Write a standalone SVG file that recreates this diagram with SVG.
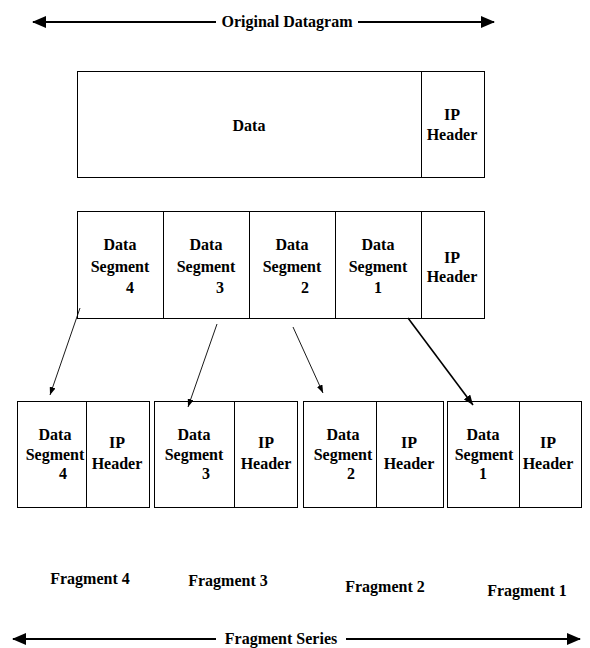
<svg xmlns="http://www.w3.org/2000/svg" width="590" height="648" viewBox="0 0 590 648">
<style>
.box{fill:#fff;stroke:#000;stroke-width:1}
.t{font-family:"Liberation Serif","Times New Roman",serif;font-weight:bold;font-size:16px;fill:#000;text-anchor:middle}
.big{stroke:#000;stroke-width:2.2;fill:none}
.thin{stroke:#000;stroke-width:0.9;fill:none}
.thick{stroke:#000;stroke-width:1.6;fill:none}
</style>
<defs>
<marker id="bigHead" markerUnits="userSpaceOnUse" markerWidth="14" markerHeight="12" refX="13" refY="6" orient="auto-start-reverse" viewBox="0 0 14 12">
<path d="M0,0 L14,6 L0,12 Z" fill="#000"/>
</marker>
<marker id="smallHead" markerUnits="userSpaceOnUse" markerWidth="8" markerHeight="6" refX="8" refY="3" orient="auto" viewBox="0 0 8 6">
<path d="M0,0 L8,3 L0,6 Z" fill="#000"/>
</marker>
<marker id="midHead" markerUnits="userSpaceOnUse" markerWidth="10" markerHeight="8" refX="10" refY="4" orient="auto" viewBox="0 0 10 8">
<path d="M0,0 L10,4 L0,8 Z" fill="#000"/>
</marker>
</defs>

<g id="original-datagram-label">
<line class="big" x1="33" y1="22" x2="216" y2="22" marker-start="url(#bigHead)"/>
<line class="big" x1="358" y1="22" x2="494" y2="22" marker-end="url(#bigHead)"/>
<text class="t" x="287" y="27">Original Datagram</text>
</g>

<g id="datagram">
<rect class="box" x="77.5" y="71.5" width="407" height="106"/>
<line class="box" x1="421.5" y1="71.5" x2="421.5" y2="177.5"/>
<text class="t" x="249" y="131">Data</text>
<text class="t" x="452" y="120">IP</text>
<text class="t" x="452" y="140">Header</text>
</g>

<g id="segmented">
<rect class="box" x="77.5" y="211.5" width="407" height="107"/>
<line class="box" x1="163.5" y1="211.5" x2="163.5" y2="318.5"/>
<line class="box" x1="249.5" y1="211.5" x2="249.5" y2="318.5"/>
<line class="box" x1="335.5" y1="211.5" x2="335.5" y2="318.5"/>
<line class="box" x1="421.5" y1="211.5" x2="421.5" y2="318.5"/>
<text class="t" x="120" y="250">Data</text>
<text class="t" x="120" y="272">Segment</text>
<text class="t" x="130" y="293">4</text>
<text class="t" x="206" y="250">Data</text>
<text class="t" x="206" y="272">Segment</text>
<text class="t" x="220" y="293">3</text>
<text class="t" x="292" y="250">Data</text>
<text class="t" x="292" y="272">Segment</text>
<text class="t" x="305" y="293">2</text>
<text class="t" x="378" y="250">Data</text>
<text class="t" x="378" y="272">Segment</text>
<text class="t" x="378" y="293">1</text>
<text class="t" x="452" y="263">IP</text>
<text class="t" x="452" y="282">Header</text>
</g>

<g id="fragment4">
<rect class="box" x="17.5" y="401.5" width="132" height="106"/>
<line class="box" x1="86.5" y1="401.5" x2="86.5" y2="507.5"/>
<text class="t" x="55" y="440">Data</text>
<text class="t" x="55" y="460">Segment</text>
<text class="t" x="63" y="479">4</text>
<text class="t" x="117" y="448">IP</text>
<text class="t" x="117" y="469">Header</text>
</g>

<g id="fragment3">
<rect class="box" x="154.5" y="401.5" width="143" height="106"/>
<line class="box" x1="234.5" y1="401.5" x2="234.5" y2="507.5"/>
<text class="t" x="194" y="440">Data</text>
<text class="t" x="194" y="460">Segment</text>
<text class="t" x="206" y="479">3</text>
<text class="t" x="266" y="448">IP</text>
<text class="t" x="266" y="469">Header</text>
</g>

<g id="fragment2">
<rect class="box" x="303.5" y="401.5" width="140" height="106"/>
<line class="box" x1="376.5" y1="401.5" x2="376.5" y2="507.5"/>
<text class="t" x="343" y="440">Data</text>
<text class="t" x="343" y="460">Segment</text>
<text class="t" x="351" y="479">2</text>
<text class="t" x="409" y="448">IP</text>
<text class="t" x="409" y="469">Header</text>
</g>

<g id="fragment1">
<rect class="box" x="447.5" y="401.5" width="134" height="106"/>
<line class="box" x1="519.5" y1="401.5" x2="519.5" y2="507.5"/>
<text class="t" x="483" y="440">Data</text>
<text class="t" x="484" y="460">Segment</text>
<text class="t" x="483" y="479">1</text>
<text class="t" x="548" y="448">IP</text>
<text class="t" x="548" y="469">Header</text>
</g>

<g id="connectors">
<line class="thin" x1="80" y1="308" x2="50" y2="395" marker-end="url(#smallHead)"/>
<line class="thin" x1="217" y1="324" x2="188" y2="407" marker-end="url(#smallHead)"/>
<line class="thin" x1="293" y1="327" x2="323" y2="393" marker-end="url(#smallHead)"/>
<line class="thick" x1="408" y1="318" x2="473" y2="405" marker-end="url(#midHead)"/>
</g>

<g id="fragment-labels">
<text class="t" x="90" y="584">Fragment 4</text>
<text class="t" x="228" y="586">Fragment 3</text>
<text class="t" x="385" y="592">Fragment 2</text>
<text class="t" x="527" y="596">Fragment 1</text>
</g>

<g id="fragment-series-label">
<line class="big" x1="13" y1="639" x2="216" y2="639" marker-start="url(#bigHead)"/>
<line class="big" x1="346" y1="639" x2="580" y2="639" marker-end="url(#bigHead)"/>
<text class="t" x="281" y="644">Fragment Series</text>
</g>
</svg>
